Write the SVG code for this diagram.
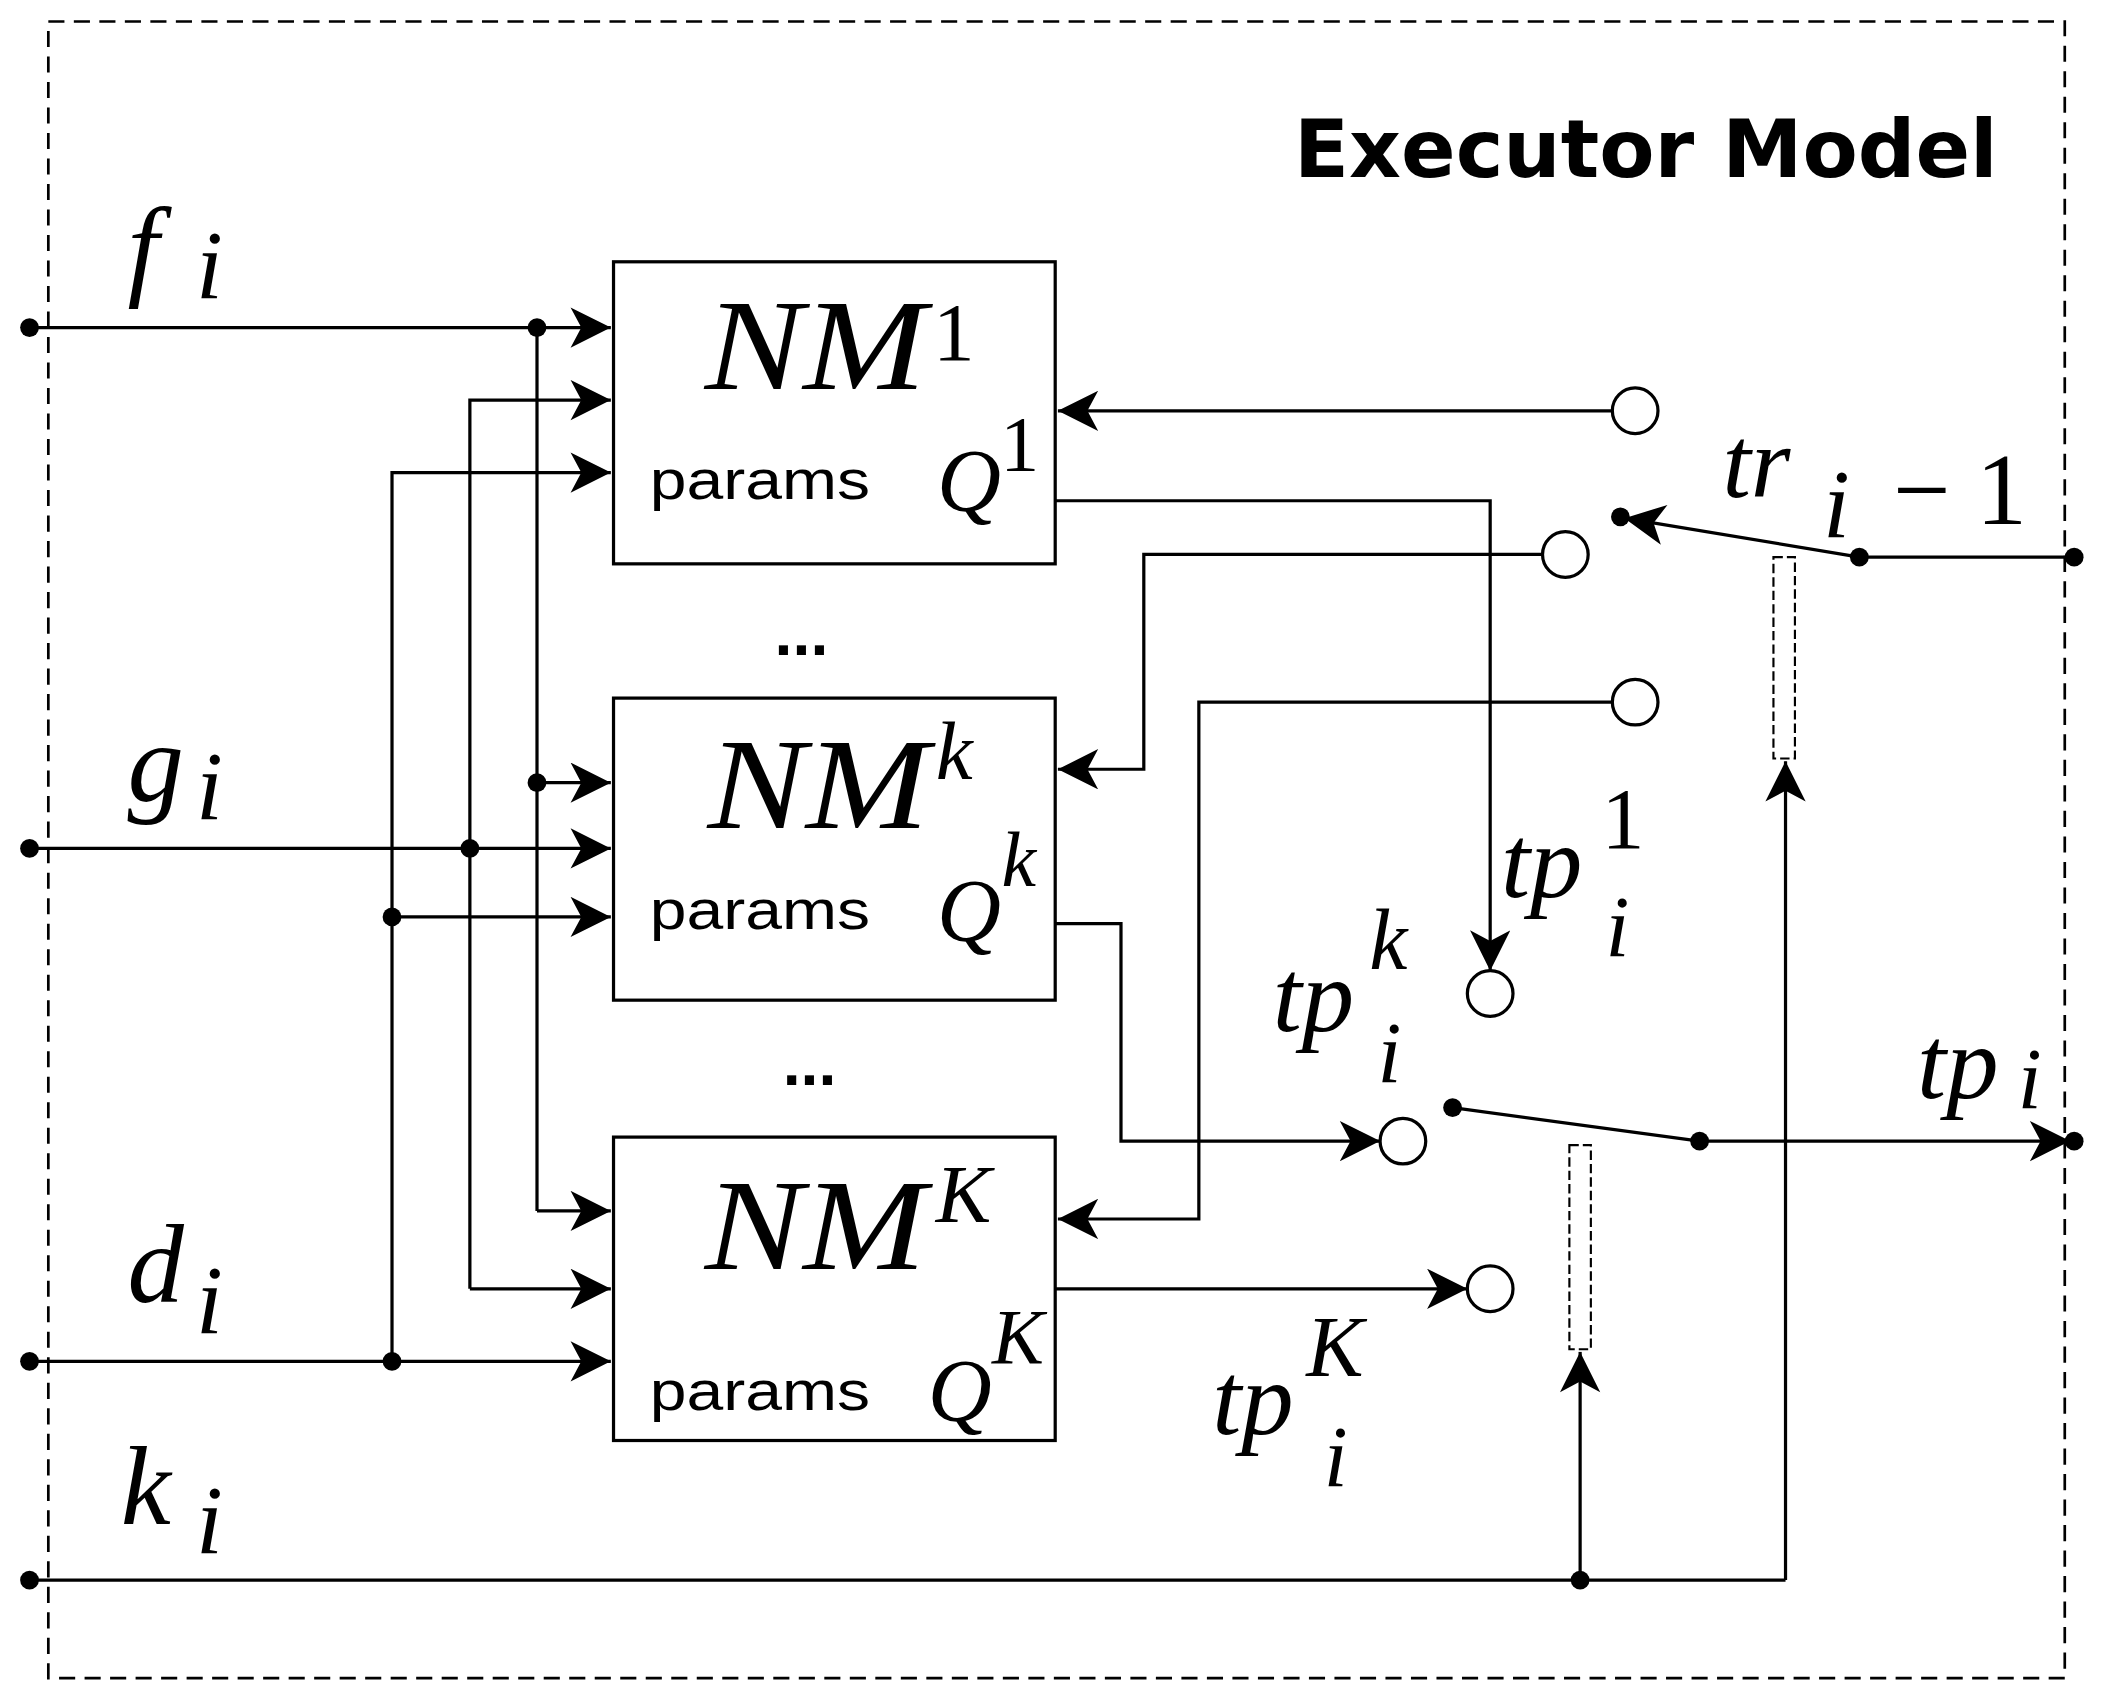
<svg xmlns="http://www.w3.org/2000/svg" width="2105" height="1702" viewBox="0 0 2105 1702">
<style>
.w{fill:none;stroke:#000;stroke-width:2.4}
.a{fill:none;stroke:#000;stroke-width:2.4;marker-end:url(#ar)}
.bx{fill:#fff;stroke:#000;stroke-width:2.4}
.m{font-family:"Liberation Serif",serif;font-style:italic;fill:#000}
.n{font-family:"Liberation Serif",serif;font-style:normal;fill:#000}
.s{font-family:"Liberation Sans",Arial,sans-serif;fill:#000}
.oc{fill:#fff;stroke:#000;stroke-width:2.4}
.dash{fill:none;stroke:#000;stroke-width:2;stroke-dasharray:12 7}
.dr{fill:none;stroke:#000;stroke-width:1.6;stroke-dasharray:7 3}
</style>
<defs>
<marker id="ar" markerUnits="userSpaceOnUse" markerWidth="34" markerHeight="34" refX="32" refY="15" orient="auto">
<path d="M2,0 L32,15 L2,30 L10,15 Z" fill="#000"/>
</marker>
</defs>
<rect width="2105" height="1702" fill="#fff"/>
<g transform="scale(1.3425)">
<rect class="dash" x="36" y="16" width="1502" height="1234"/>
<text x="1488" y="132" text-anchor="end" font-size="60" font-weight="bold" font-family="DejaVu Sans,sans-serif">Executor Model</text>

<g id="connectors">
<path class="a" d="M22,244 H455"/>
<path class="w" d="M400,244 V902"/>
<path class="a" d="M400,583 H455"/>
<path class="a" d="M400,902 H455"/>
<path class="a" d="M22,632 H455"/>
<path class="a" d="M350,960 V298 H455"/>
<path class="a" d="M350,960 H455"/>
<path class="a" d="M22,1014 H455"/>
<path class="a" d="M292,1014 V352 H455"/>
<path class="a" d="M292,683 H455"/>
<path class="w" d="M22,1177 H1330"/>
<path class="a" d="M1330,1177 V567"/>
<path class="a" d="M1177,1177 V1007"/>
<path class="a" d="M1201,306 H788"/>
<path class="a" d="M1149,413 H852 V573 H788"/>
<path class="a" d="M1201,523 H893 V908 H788"/>
<path class="a" d="M786,373 H1110 V723"/>
<path class="a" d="M786,688 H835 V850 H1028"/>
<path class="a" d="M786,960 H1093"/>
<path class="a" d="M1385,415 L1210,386"/>
<path class="w" d="M1385,415 H1545"/>
<path class="w" d="M1082,825 L1266,850"/>
<path class="a" d="M1266,850 H1542"/>
<rect class="dr" x="1321" y="415" width="16" height="150"/>
<rect class="dr" x="1169" y="853" width="16" height="152"/>
<g fill="#000">
<circle cx="22" cy="244" r="7"/><circle cx="22" cy="632" r="7"/><circle cx="22" cy="1014" r="7"/><circle cx="22" cy="1177" r="7"/>
<circle cx="400" cy="244" r="7"/><circle cx="400" cy="583" r="7"/><circle cx="350" cy="632" r="7"/>
<circle cx="292" cy="683" r="7"/><circle cx="292" cy="1014" r="7"/>
<circle cx="1177" cy="1177" r="7"/>
<circle cx="1207" cy="385" r="7"/><circle cx="1385" cy="415" r="7"/><circle cx="1545" cy="415" r="7"/>
<circle cx="1082" cy="825" r="7"/><circle cx="1266" cy="850" r="7"/><circle cx="1545" cy="850" r="7"/>
</g>
<circle class="oc" cx="1218" cy="306" r="17"/>
<circle class="oc" cx="1166" cy="413" r="17"/>
<circle class="oc" cx="1218" cy="523" r="17"/>
<circle class="oc" cx="1110" cy="740" r="17"/>
<circle class="oc" cx="1045" cy="850" r="17"/>
<circle class="oc" cx="1110" cy="960" r="17"/>
</g>

<g id="nm1">
<rect class="bx" x="457" y="195" width="329" height="225"/>
<text class="m" x="525" y="290" font-size="96" textLength="165" lengthAdjust="spacingAndGlyphs">NM</text>
<text class="n" x="695" y="268" font-size="62">1</text>
<text class="s" x="484" y="372" font-size="42" textLength="164" lengthAdjust="spacingAndGlyphs">params</text>
<text class="m" x="698" y="380" font-size="66">Q</text>
<text class="n" x="745" y="350" font-size="58">1</text>
</g>
<g id="nmk">
<rect class="bx" x="457" y="520" width="329" height="225"/>
<text class="m" x="527" y="617" font-size="96" textLength="165" lengthAdjust="spacingAndGlyphs">NM</text>
<text class="m" x="697" y="580" font-size="62">k</text>
<text class="s" x="484" y="692" font-size="42" textLength="164" lengthAdjust="spacingAndGlyphs">params</text>
<text class="m" x="698" y="700" font-size="66">Q</text>
<text class="m" x="746" y="660" font-size="58">k</text>
</g>
<g id="nmK">
<rect class="bx" x="457" y="847" width="329" height="226"/>
<text class="m" x="525" y="945" font-size="96" textLength="165" lengthAdjust="spacingAndGlyphs">NM</text>
<text class="m" x="697" y="910" font-size="62">K</text>
<text class="s" x="484" y="1050" font-size="42" textLength="164" lengthAdjust="spacingAndGlyphs">params</text>
<text class="m" x="691" y="1058" font-size="66">Q</text>
<text class="m" x="739" y="1015" font-size="58">K</text>
</g>
<text class="s" x="597" y="488" font-size="48" font-weight="bold" text-anchor="middle">...</text>
<text class="s" x="603" y="808" font-size="48" font-weight="bold" text-anchor="middle">...</text>

<g id="labels">
<text class="m" x="95" y="212" font-size="84">f</text><text class="m" x="146" y="222" font-size="72">i</text>
<text class="m" x="95" y="597" font-size="84">g</text><text class="m" x="146" y="610" font-size="72">i</text>
<text class="m" x="95" y="970" font-size="84">d</text><text class="m" x="146" y="993" font-size="72">i</text>
<text class="m" x="90" y="1135" font-size="84">k</text><text class="m" x="146" y="1157" font-size="72">i</text>
<text class="m" x="1283" y="370" font-size="76">tr</text><text class="m" x="1358" y="400" font-size="72">i</text>
<text class="n" x="1410" y="390" font-size="76">− 1</text>
<text class="m" x="1118" y="668" font-size="78">tp</text><text class="n" x="1193" y="632" font-size="64">1</text><text class="m" x="1196" y="712" font-size="64">i</text>
<text class="m" x="948" y="768" font-size="78">tp</text><text class="m" x="1020" y="722" font-size="64">k</text><text class="m" x="1026" y="806" font-size="64">i</text>
<text class="m" x="903" y="1068" font-size="78">tp</text><text class="m" x="973" y="1025" font-size="64">K</text><text class="m" x="986" y="1107" font-size="64">i</text>
<text class="m" x="1428" y="818" font-size="78">tp</text><text class="m" x="1503" y="825" font-size="64">i</text>
</g>
</g>
</svg>
